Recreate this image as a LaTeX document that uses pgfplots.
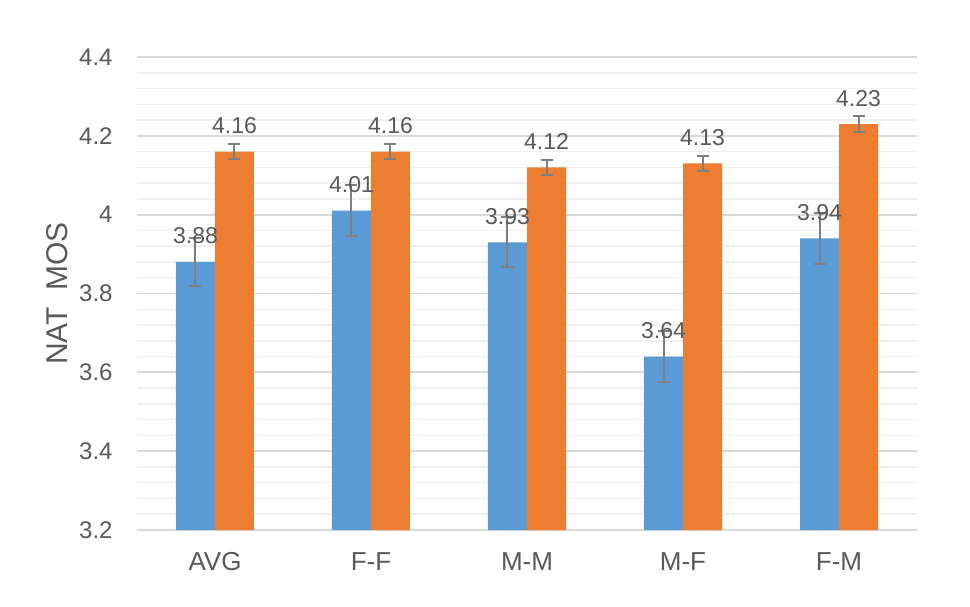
\documentclass[border=0pt]{standalone}
\usepackage{pgfplots}
\pgfplotsset{compat=1.18}
\usepackage{fontspec}
\setmainfont{Liberation Sans}
\definecolor{cblue}{HTML}{5B9BD5}
\definecolor{corange}{HTML}{ED7D31}
\definecolor{ctext}{HTML}{595959}
\definecolor{cgrid}{HTML}{D9D9D9}
\definecolor{cminor}{HTML}{EFEFEF}
\definecolor{cerr}{HTML}{7F7F7F}
\begin{document}
\begin{tikzpicture}
\begin{axis}[
  at={(0,0)}, anchor=south west,
  width=390pt, height=236.5pt, scale only axis,
  xmin=-0.5, xmax=4.5,
  ymin=3.2, ymax=4.4,
  ytick={3.2,3.4,3.6,3.8,4.0,4.2,4.4},
  minor y tick num=4,
  xtick={0,1,2,3,4},
  xticklabels={AVG,F-F,M-M,M-F,F-M},
  ymajorgrids, yminorgrids,
  major grid style={draw=cgrid, line width=0.85pt},
  minor grid style={draw=cminor, line width=0.75pt},
  axis lines*=left,
  x axis line style={-, draw=cgrid, line width=0.85pt},
  y axis line style={draw=none},
  major tick length=0pt, minor tick length=0pt,
  tick style={draw=none},
  /pgf/number format/assume math mode=true,
  yticklabel style={/pgf/number format/fixed, /pgf/number format/precision=1,
    anchor=east, inner sep=0pt, xshift=-12pt, font=\fontsize{12}{14}\selectfont, text=ctext},
  xticklabel style={anchor=center, inner sep=0pt, yshift=-16pt, font=\fontsize{13}{15}\selectfont, text=ctext},
  ylabel={NAT\ \ MOS},
  ylabel style={at={(axis description cs:0,0.5)}, anchor=center, yshift=40pt, rotate=0,
    font=\fontsize{15}{17}\selectfont, text=ctext},
  ybar=0pt, bar width=19.5pt,
  nodes near coords,
  nodes near coords style={/pgf/number format/fixed, /pgf/number format/fixed zerofill,
    /pgf/number format/precision=2, anchor=base, inner sep=0pt, yshift=9pt,
    font=\fontsize{11.5}{13}\selectfont, text=ctext},
  error bars/y dir=both, error bars/y explicit,
  error bars/error bar style={draw=cerr, line width=1pt},
  error bars/error mark options={draw=cerr, line width=1pt, rotate=90, mark size=3pt},
]
\addplot[fill=cblue, draw=none] coordinates {
  (0,3.88) +- (0,0.061)
  (1,4.01) +- (0,0.064)
  (2,3.93) +- (0,0.064)
  (3,3.64) +- (0,0.064)
  (4,3.94) +- (0,0.064)
};
\addplot[fill=corange, draw=none] coordinates {
  (0,4.16) +- (0,0.019)
  (1,4.16) +- (0,0.019)
  (2,4.12) +- (0,0.019)
  (3,4.13) +- (0,0.019)
  (4,4.23) +- (0,0.020)
};
\end{axis}
\pgfresetboundingbox
\path[use as bounding box] (-68.5pt,-38pt) rectangle (416.5pt,265pt);
\end{tikzpicture}
\end{document}
